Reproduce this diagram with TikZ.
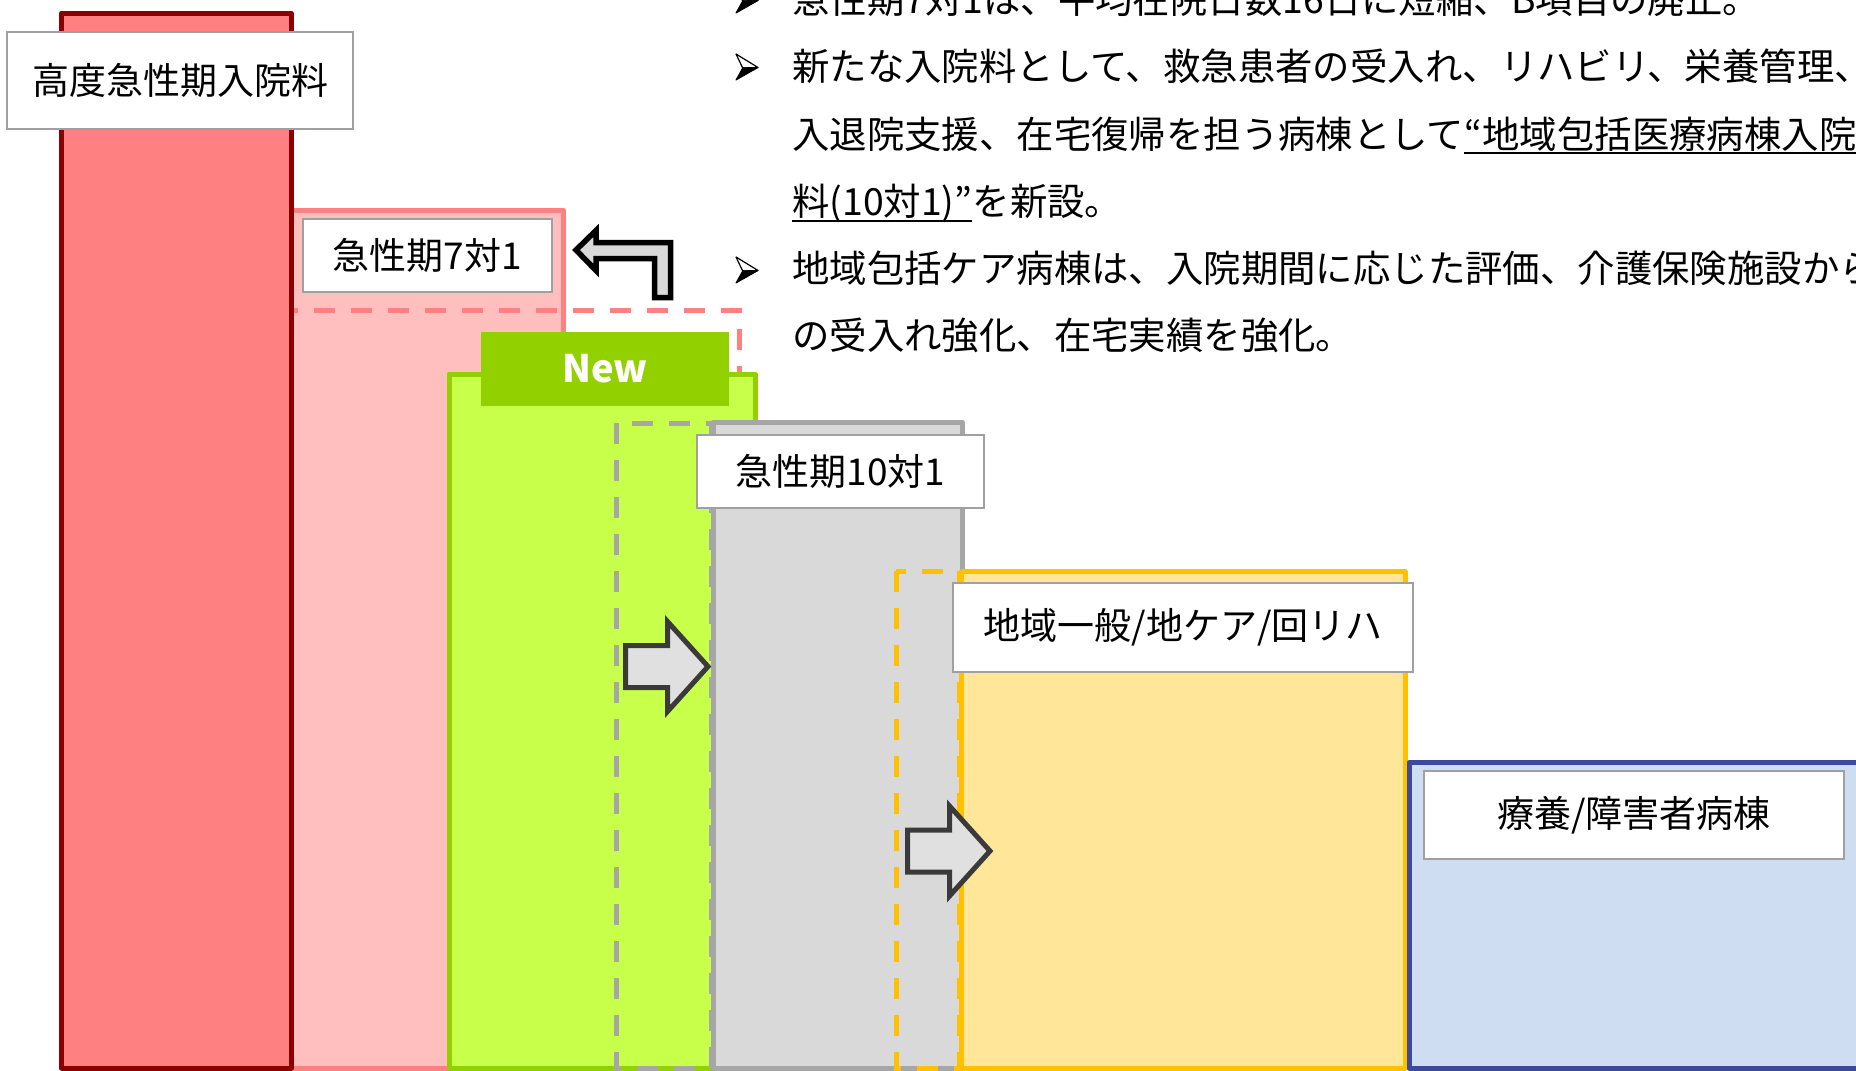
\documentclass[tikz,border=0pt]{standalone}
\usepackage{fontspec}
\setmainfont{Noto Sans CJK JP}
\definecolor{redS}{HTML}{8B0000}
\definecolor{redF}{HTML}{FF8080}
\definecolor{pinkF}{HTML}{FFBFBF}
\definecolor{pinkS}{HTML}{FF8080}
\definecolor{grnF}{HTML}{C8FF4B}
\definecolor{grnS}{HTML}{92D000}
\definecolor{gryF}{HTML}{D9D9D9}
\definecolor{gryS}{HTML}{A6A6A6}
\definecolor{orgF}{HTML}{FFE699}
\definecolor{orgS}{HTML}{FFC000}
\definecolor{bluF}{HTML}{CFDDF2}
\definecolor{bluS}{HTML}{3C4A9E}
\definecolor{arrS}{HTML}{3A3A3A}
\definecolor{arrF}{HTML}{E0E0E0}
\definecolor{lblS}{HTML}{A0A0A0}
\begin{document}
\begin{tikzpicture}[x=1pt,y=-1pt,
  bar/.style={line width=5pt, line join=round},
  dashbox/.style={line width=5pt, dash pattern=on 21pt off 16pt},
  lbl/.style={draw=lblS, line width=1.5pt, fill=white, inner sep=0pt,
              font=\fontsize{37}{44}\selectfont},
  txt/.style={anchor=base west, inner sep=0pt, font=\fontsize{37.4}{45}\selectfont},
  blockarrow/.style={draw=arrS, fill=arrF, line width=5pt},
  bentarrow/.style={draw=black, fill=gryF, line width=5.5pt},
  bulletmark/.pic={
    \filldraw[fill=white, draw=black, line width=1.2pt, line join=round]
      (-11,-13) -- (11,0.5) -- (-4.3,1) -- cycle;
    \filldraw[black, line width=1pt, line join=round]
      (-4.3,1) -- (11,0.5) -- (-11,13) -- cycle;
  }]
\useasboundingbox (0,0) rectangle (1856,1071);
\clip (0,0) rectangle (1856,1071);
\fill[white] (0,0) rectangle (1856,1071);

% bars
\filldraw[bar, draw=pinkS, fill=pinkF] (291,1068) rectangle (563.5,210.5);
\draw[dashbox, draw=pinkS] (291,310) rectangle (739,1068);
\filldraw[bar, draw=redS, fill=redF] (61.5,1068) rectangle (291,13);
\filldraw[bar, draw=grnS, fill=grnF] (449,1068) rectangle (755,374);
\node[fill=grnS, minimum width=248pt, minimum height=74pt, inner sep=0pt,
      text=white, font=\bfseries\fontsize{38}{40}\selectfont] (newtab) at (605,369) {New};
\draw[dashbox, draw=gryS] (616,423) rectangle (711,1068);
\filldraw[bar, draw=gryS, fill=gryF] (713,1068) rectangle (962,422);
\draw[dashbox, draw=orgS] (896,571) rectangle (959,1068);
\filldraw[bar, draw=orgS, fill=orgF] (961.5,1068) rectangle (1405,571.5);
\filldraw[bar, draw=bluS, fill=bluF] (1409,1068) rectangle (1880,762.5);

% labels
\node[lbl, minimum width=346pt, minimum height=97pt] (lab1) at (180,80.5) {高度急性期入院料};
\node[lbl, minimum width=249pt, minimum height=73pt] (lab2) at (427.5,255.5) {急性期7対1};
\node[lbl, minimum width=287pt, minimum height=73pt] (lab3) at (840.5,471.5) {急性期10対1};
\node[lbl, minimum width=460pt, minimum height=89pt] (lab4) at (1183,627.5) {地域一般/地ケア/回リハ};
\node[lbl, minimum width=420pt, minimum height=88pt] (lab5) at (1634,815) {療養/障害者病棟};

% arrows
\draw[blockarrow] (625.5,645.5) -- (667.5,645.5) -- (667.5,621.5) -- (708,666.5)
  -- (667.5,711.5) -- (667.5,687.5) -- (625.5,687.5) -- cycle;
\draw[blockarrow] (907.5,830) -- (949.5,830) -- (949.5,806) -- (990,851)
  -- (949.5,896) -- (949.5,872) -- (907.5,872) -- cycle;
\draw[bentarrow] (576,250) -- (596,230.5) -- (596,242.5) -- (670.5,242.5) -- (670.5,297.5)
  -- (654.5,297.5) -- (654.5,258.5) -- (596,258.5) -- (596,270.5) -- cycle;

% bullet text
\pic at (747,0) {bulletmark};
\pic at (747,67) {bulletmark};
\pic at (747,270) {bulletmark};
\node[txt] (l1) at (792,13.5) {急性期7対1は、平均在院日数16日に短縮、B項目の廃止。};
\node[txt] (l2) at (792,80.5) {新たな入院料として、救急患者の受入れ、リハビリ、栄養管理、};
\node[txt] (l3a) at (792,148) {入退院支援、在宅復帰を担う病棟として};
\node[txt] (l3b) at (l3a.base east) {“地域包括医療病棟入院};
\draw[line width=2pt] ([yshift=-5pt]l3b.base west) -- ([yshift=-5pt]l3b.base east);
\node[txt] (l4a) at (792,215.5) {料(10対1)”};
\node[txt] (l4b) at (l4a.base east) {を新設。};
\draw[line width=2pt] ([yshift=-5pt]l4a.base west) -- ([yshift=-5pt]l4a.base east);
\node[txt] (l5) at (792,282.5) {地域包括ケア病棟は、入院期間に応じた評価、介護保険施設から};
\node[txt] (l6) at (792,349.5) {の受入れ強化、在宅実績を強化。};
\end{tikzpicture}
\end{document}
